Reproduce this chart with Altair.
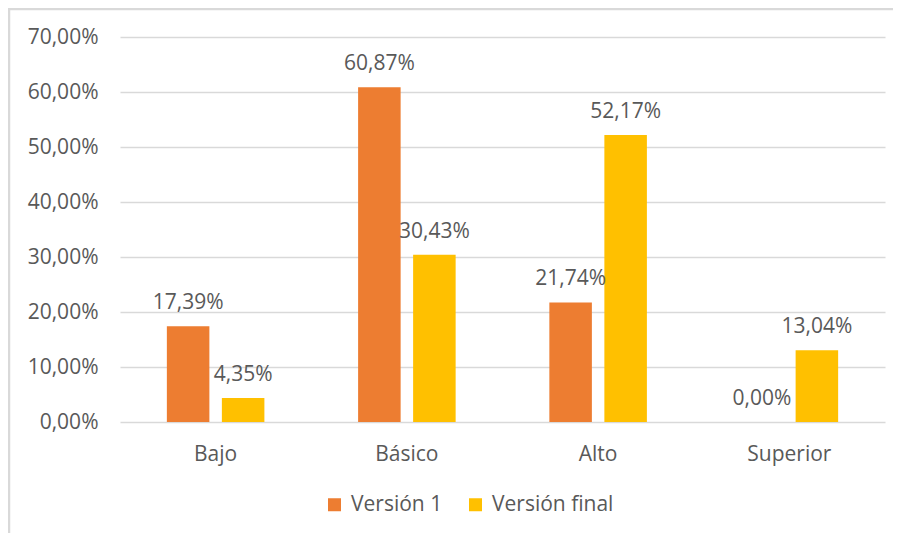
import altair as alt
import pandas as pd

categories = ["Bajo", "Básico", "Alto", "Superior"]
series = ["Versión 1", "Versión final"]
version1 = [17.39, 60.87, 21.74, 0.00]
version_final = [4.35, 30.43, 52.17, 13.04]
y_ticks = [0, 10, 20, 30, 40, 50, 60, 70]
colors = ["#ED7D31", "#FFC000"]

rows = []
for c, a, b in zip(categories, version1, version_final):
    rows.append({"categoria": c, "serie": series[0], "valor": a})
    rows.append({"categoria": c, "serie": series[1], "valor": b})
df = pd.DataFrame(rows)
df["etiqueta"] = df["valor"].map(lambda v: f"{v:.2f}".replace(".", ",") + "%")

W, H = 765, 385
PAD = {"left": 112, "top": 29, "right": 8, "bottom": 111}
FONT = "Open Sans"
TXT = "#595959"
GRID = "#D9D9D9"

x = alt.X(
    "categoria:N", sort=categories, title=None,
    scale=alt.Scale(paddingInner=0.49, paddingOuter=0.245),
    axis=alt.Axis(labelAngle=0, labelFontSize=21, labelColor=TXT, labelFont=FONT,
                  labelPadding=21, domain=False, ticks=False, grid=False),
)
xo = alt.XOffset("serie:N", sort=series,
                 scale=alt.Scale(paddingInner=0.227, paddingOuter=0))
y = alt.Y(
    "valor:Q", title=None,
    scale=alt.Scale(domain=[0, 70], nice=False, zero=True),
    axis=alt.Axis(values=y_ticks,
                  labelExpr="replace(format(datum.value, '.2f'), '.', ',') + '%'",
                  labelFontSize=21, labelColor=TXT, labelFont=FONT, labelPadding=22,
                  domain=False, ticks=False, grid=True, gridColor=GRID, gridWidth=1.5),
)
color = alt.Color(
    "serie:N", sort=series, title=None,
    scale=alt.Scale(domain=series, range=colors),
    legend=alt.Legend(orient="none", direction="horizontal", legendX=204, legendY=457,
                      symbolType="square", symbolSize=169, symbolStrokeWidth=0,
                      labelFontSize=21, labelFont=FONT, labelColor=TXT,
                      labelOffset=6, columnPadding=22),
)

base = alt.Chart(df)
bars = base.mark_bar().encode(x=x, xOffset=xo, y=y, color=color)
labels = base.mark_text(baseline="alphabetic", dy=-17, fontSize=21, font=FONT,
                        color=TXT).encode(x=x, xOffset=xo, y=y, text="etiqueta:N")

frame_df = pd.DataFrame({"k": [0]})
top_border = alt.Chart(frame_df).mark_rule(color=GRID, strokeWidth=2.5).encode(
    x=alt.value(-112), x2=alt.value(W + 8), y=alt.value(-28))
left_border = alt.Chart(frame_df).mark_rule(color=GRID, strokeWidth=2.5).encode(
    x=alt.value(-111), y=alt.value(-29), y2=alt.value(H + 111))

chart = alt.layer(bars, labels, top_border, left_border).properties(
    width=W, height=H,
    autosize=alt.AutoSizeParams(type="none"),
    padding=PAD,
).configure(background="white").configure_view(stroke=None)

chart.save("out.html", embed_options={"renderer": "svg", "actions": False})
